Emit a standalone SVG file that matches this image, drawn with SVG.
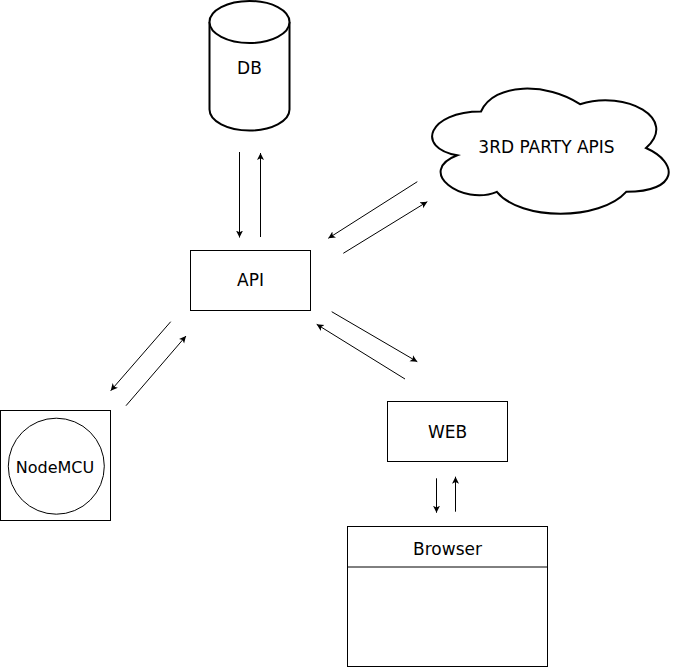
<svg xmlns="http://www.w3.org/2000/svg" width="679" height="668" viewBox="0 0 679 668">
<style>
.box{fill:#fff;stroke:#000;stroke-width:1}
.thick{fill:#fff;stroke:#000;stroke-width:2}
.lbl{font-family:"DejaVu Sans","Liberation Sans",sans-serif;font-size:17px;fill:#000;text-anchor:middle}
.edge{fill:none;stroke:#000;stroke-width:1;marker-end:url(#arr)}
</style>
<defs>
<marker id="arr" markerUnits="userSpaceOnUse" markerWidth="8" markerHeight="8" refX="7" refY="3.5" orient="auto">
<path d="M0,0 L7,3.5 L0,7 L1.8,3.5 z" fill="#000"/>
</marker>
</defs>
<rect width="679" height="668" fill="#fff"/>
<g id="db">
<path class="thick" d="M209.5,22 A40,21 0 0 1 289.5,22 L289.5,109.5 A40,21 0 0 1 209.5,109.5 Z"/>
<path class="thick" fill="none" d="M209.5,22 A40,21 0 0 0 289.5,22"/>
<text class="lbl" x="249.5" y="74">DB</text>
</g>
<g id="api">
<rect class="box" x="190.5" y="250.5" width="120" height="60"/>
<text class="lbl" x="250.5" y="286">API</text>
</g>
<g id="cloud">
<path class="thick" d="M481,111.5 C428.2,111.5 415,148 457.24,155.3 C415,171.36 462.52,206.4 496.84,191.8 C520.6,221 599.8,221 626.2,191.8 C679,191.8 679,162.6 646,148 C679,118.8 626.2,89.6 580,104.2 C547,82.3 494.2,82.3 481,111.5 Z"/>
<text class="lbl" x="546.5" y="152.7">3RD PARTY APIS</text>
</g>
<g id="nodemcu">
<rect class="box" x="0.5" y="410.5" width="110" height="110"/>
<circle class="box" cx="56.3" cy="466.2" r="48"/>
<text class="lbl" x="55" y="473.3" style="font-size:16px">NodeMCU</text>
</g>
<g id="web">
<rect class="box" x="387.5" y="401.5" width="120" height="60"/>
<text class="lbl" x="447.5" y="437.7">WEB</text>
</g>
<g id="browser">
<rect class="box" x="347.5" y="526.5" width="200" height="140"/>
<line x1="347.5" y1="567" x2="547.5" y2="567" stroke="#000" stroke-width="1"/>
<text class="lbl" x="447.5" y="555">Browser</text>
</g>
<g id="connectors">
<line class="edge" x1="239.5" y1="152" x2="239.5" y2="237.5"/>
<line class="edge" x1="260.5" y1="237" x2="260.5" y2="153"/>
<line class="edge" x1="417.3" y1="181.7" x2="328.3" y2="238.3"/>
<line class="edge" x1="343.3" y1="253.3" x2="427.3" y2="201.7"/>
<line class="edge" x1="170.7" y1="321.7" x2="110.7" y2="390.7"/>
<line class="edge" x1="126" y1="405.7" x2="186" y2="336"/>
<line class="edge" x1="331.7" y1="311.7" x2="417.3" y2="361.7"/>
<line class="edge" x1="405" y1="379" x2="316.7" y2="324.3"/>
<line class="edge" x1="436.5" y1="478.3" x2="436.5" y2="512.7"/>
<line class="edge" x1="455.5" y1="511.7" x2="455.5" y2="476.7"/>
</g>
</svg>
